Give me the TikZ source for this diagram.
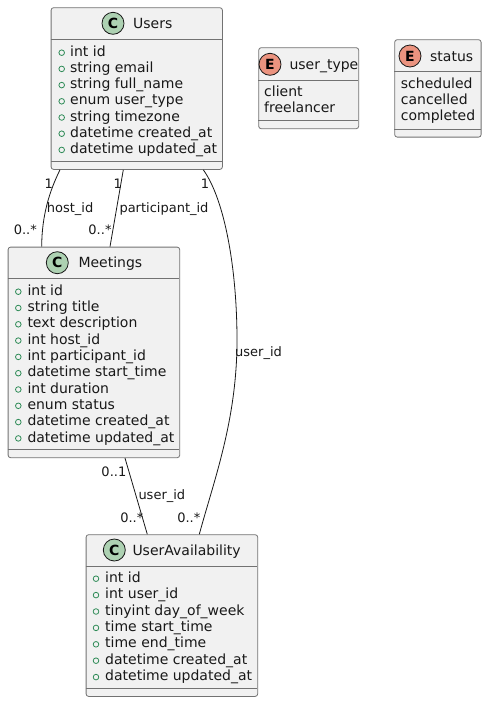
\documentclass[tikz,border=0pt]{standalone}
\usepackage{fontspec}
\setmainfont{DejaVu Sans}
\definecolor{boxfill}{HTML}{F1F1F1}
\definecolor{boxline}{HTML}{727272}
\definecolor{ink}{HTML}{181818}
\definecolor{cgreen}{HTML}{ADD1B2}
\definecolor{ered}{HTML}{EB937F}
\definecolor{bul}{HTML}{2E8B57}
\begin{document}
\begin{tikzpicture}[x=1pt,y=-1pt,
  box/.style={draw=boxline,fill=boxfill,line width=0.8pt,rounded corners=2.5pt,inner sep=0pt,anchor=north west},
  sep/.style={draw=boxline,line width=0.8pt},
  attr/.style={anchor=base west,inner sep=0pt,font=\fontsize{14}{16}\selectfont,text=ink,yshift=-4.6pt},
  ttl/.style={anchor=base west,inner sep=0pt,font=\fontsize{14}{16}\selectfont,text=ink,yshift=-5pt},
  lbl/.style={inner sep=0pt,font=\fontsize{13}{15}\selectfont,text=ink},
  lblw/.style={lbl,anchor=base west,yshift=-4.5pt},
  lble/.style={lbl,anchor=base east,yshift=-4.5pt},
  bullet/.style={draw=bul,line width=0.8pt},
  badge/.style={circle,draw=ink,line width=0.8pt,minimum size=22pt,inner sep=0pt,font=\bfseries\fontsize{14}{16}\selectfont},
  conn/.style={draw=ink,line width=0.8pt}]
\useasboundingbox (0,0) rectangle (486,702);

% Users
\node[box,minimum width=171.3pt,minimum height=161.7pt] (users) at (50.7,7.3) {};
\draw[sep] (50.7,39.3) -- (222,39.3);
\draw[sep] (50.7,161.7) -- (222,161.7);
\node[badge,fill=cgreen] (uc) at (113,23.3) {C};
\node[ttl] (ut) at (133,23.3) {Users};
\foreach \t [count=\i from 0] in {int id,string email,string full\_name,enum user\_type,string timezone,datetime created\_at,datetime updated\_at}{
  \node[attr] (ua\i) at (70,51.7+16.2*\i) {\t};
  \draw[bullet] (61.7,52.7+16.2*\i) circle (2.8);
}

% user_type enum
\node[box,minimum width=100pt,minimum height=81pt] (utype) at (258.3,47.3) {};
\draw[sep] (258.3,80) -- (358.3,80);
\draw[sep] (258.3,120.7) -- (358.3,120.7);
\node[badge,fill=ered] (ue) at (270,64.3) {E};
\node[ttl] (utt) at (289.3,64.3) {user\_type};
\node[attr] (ut1) at (264,92.3) {client};
\node[attr] (ut2) at (264,108.3) {freelancer};

% status enum
\node[box,minimum width=86.4pt,minimum height=97.4pt] (status) at (394.3,39.3) {};
\draw[sep] (394.3,71.7) -- (480.7,71.7);
\draw[sep] (394.3,129) -- (480.7,129);
\node[badge,fill=ered] (se) at (410,56) {E};
\node[ttl] (st) at (430,56) {status};
\node[attr] (s1) at (400.7,84) {scheduled};
\node[attr] (s2) at (400.7,100) {cancelled};
\node[attr] (s3) at (400.7,116) {completed};

% Meetings
\node[box,minimum width=171.6pt,minimum height=210.6pt] (meet) at (7.7,246.7) {};
\draw[sep] (7.7,278.3) -- (179.3,278.3);
\draw[sep] (7.7,449.3) -- (179.3,449.3);
\node[badge,fill=cgreen] (mc) at (57.3,262.7) {C};
\node[ttl] (mt) at (78.3,262.7) {Meetings};
\foreach \t [count=\i from 0] in {int id,string title,text description,int host\_id,int participant\_id,datetime start\_time,int duration,enum status,datetime created\_at,datetime updated\_at}{
  \node[attr] (ma\i) at (27.3,290.7+16.3*\i) {\t};
  \draw[bullet] (18.3,291.7+16.3*\i) circle (2.8);
}

% UserAvailability
\node[box,minimum width=171.6pt,minimum height=161.7pt] (avail) at (85.7,534.3) {};
\draw[sep] (85.7,566.7) -- (257.3,566.7);
\draw[sep] (85.7,688.3) -- (257.3,688.3);
\node[badge,fill=cgreen] (ac) at (114.3,550) {C};
\node[ttl] (at) at (132.3,550) {UserAvailability};
\foreach \t [count=\i from 0] in {int id,int user\_id,tinyint day\_of\_week,time start\_time,time end\_time,datetime created\_at,datetime updated\_at}{
  \node[attr] (aa\i) at (105,577.7+16.4*\i) {\t};
  \draw[bullet] (96,578.7+16.4*\i) circle (2.8);
}

% connectors
\draw[conn] ([xshift=9.3pt]users.south west) .. controls (50,190) and (41.7,215) .. ([xshift=34pt]meet.north west);
\draw[conn] ([xshift=72.6pt]users.south west) -- ([xshift=102.3pt]meet.north west);
\draw[conn] ([xshift=152.6pt]users.south west) .. controls (225,200) and (237,270) .. (237,340) .. controls (237,420) and (214,480) .. ([xshift=113.6pt]avail.north west);
\draw[conn] ([xshift=117.3pt]meet.south west) -- ([xshift=61.6pt]avail.north west);

% labels
\node[lbl] (l1) at (48.7,184) {1};
\node[lblw] (l2) at (46.7,207.7) {host\_id};
\node[lble] (l3) at (37,230) {0..*};
\node[lbl] (l4) at (117.7,184) {1};
\node[lblw] (l5) at (119.3,207.7) {participant\_id};
\node[lble] (l6) at (111.7,230) {0..*};
\node[lbl] (l7) at (205,184) {1};
\node[lblw] (l8) at (235,352) {user\_id};
\node[lble] (l9) at (200.5,518.3) {0..*};
\node[lble] (l10) at (126.5,472.3) {0..1};
\node[lblw] (l11) at (138.3,495) {user\_id};
\node[lble] (l12) at (143.5,518.3) {0..*};
\end{tikzpicture}
\end{document}
